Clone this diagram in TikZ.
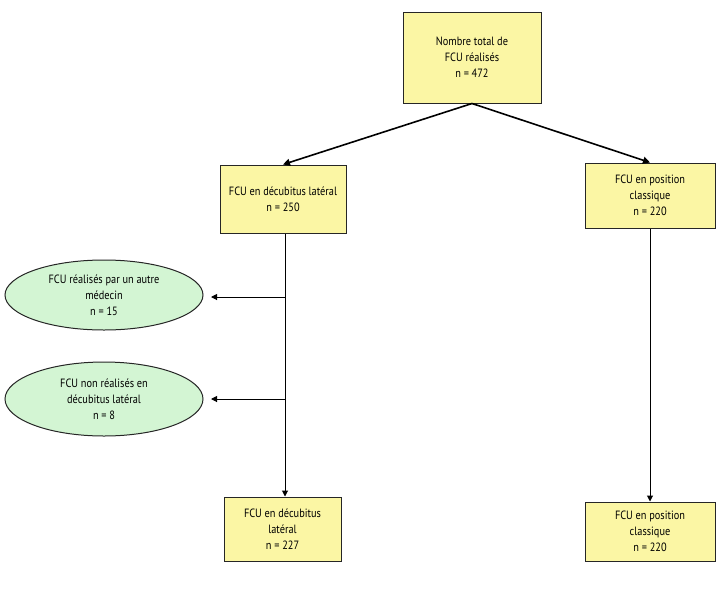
\documentclass[tikz,border=0pt]{standalone}
\usepackage{fontspec}
\setmainfont{PT Sans}[FakeStretch=0.86]
\usetikzlibrary{shapes.geometric,arrows.meta}
\definecolor{boxyellow}{HTML}{FBF6A4}
\definecolor{ellgreen}{HTML}{D3F5D3}
\tikzset{
  ybox/.style={draw=black!85, line width=1pt, fill=boxyellow, align=center, font=\fontsize{12}{16}\selectfont, inner sep=0pt, anchor=center},
  gell/.style={ellipse, draw=black!85, line width=1pt, fill=ellgreen, align=center, font=\fontsize{12}{16}\selectfont, inner sep=0pt},
  arr/.style={-{Triangle[length=6pt,width=6pt]}, line width=1pt},
  arrb/.style={-{Triangle[length=7pt,width=7pt]}, line width=1.6pt}
}
\begin{document}
\begin{tikzpicture}[x=1pt,y=-1pt]
\useasboundingbox (0,0) rectangle (727,592);
\node[ybox, minimum width=138pt, minimum height=91pt] (top) at (472,57.5) {Nombre total de\\FCU réalisés\\n = 472};
\node[ybox, minimum width=126pt, minimum height=68pt] (lat) at (283,199) {FCU en décubitus latéral\\n = 250};
\node[ybox, minimum width=130pt, minimum height=65pt] (cla) at (650,195.5) {FCU en position\\classique\\n = 220};
\node[gell, minimum width=198pt, minimum height=70pt] (e1) at (104,295) {FCU réalisés par un autre\\médecin\\n = 15};
\node[gell, minimum width=198pt, minimum height=74pt] (e2) at (104,399) {FCU non réalisés en\\décubitus latéral\\n = 8};
\node[ybox, minimum width=117pt, minimum height=64pt] (lat2) at (282.5,529) {FCU en décubitus\\latéral\\n = 227};
\node[ybox, minimum width=130pt, minimum height=59pt] (cla2) at (650,531.5) {FCU en position\\classique\\n = 220};
\coordinate (j1) at (285,297);
\coordinate (j2) at (285,399);
\coordinate (t1) at (211,297);
\coordinate (t2) at (211,399);
\draw[arrb] (top.south) -- (lat.north);
\draw[arrb] (top.south) -- (cla.north);
\draw[arr] (lat.south -| j1) -- (lat2.north -| j1);
\draw[arr] (cla.south) -- (cla2.north);
\draw[arr] (j1) -- (t1);
\draw[arr] (j2) -- (t2);
\end{tikzpicture}
\end{document}
